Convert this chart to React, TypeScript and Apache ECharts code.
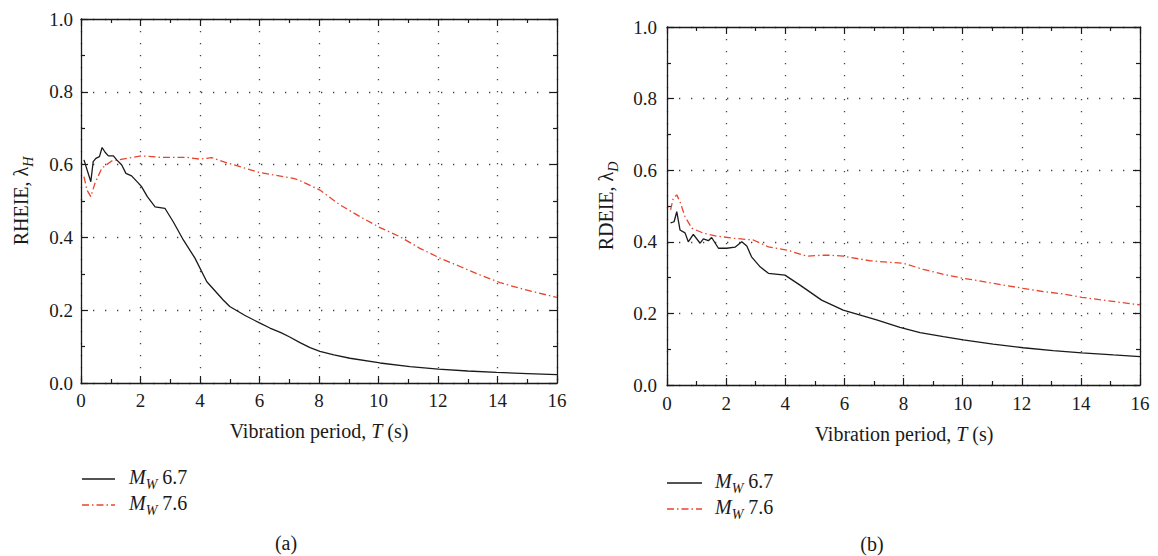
import React, { useEffect, useRef } from "react";
import * as echarts from "echarts";

// ---- Data ----
// (a) RHEIE, lambda_H
const periodH67 = [0.1, 0.33, 0.41, 0.5, 0.62, 0.71, 0.81, 0.92, 1.09, 1.2, 1.37, 1.51, 1.7, 1.93, 2.04, 2.23, 2.49, 2.82, 3.1, 3.44, 3.83, 4.23, 4.78, 5.0, 5.5, 6.0, 6.35, 6.7, 7.0, 7.36, 7.7, 8.03, 8.5, 9.04, 10.05, 11.06, 12.01, 13.0, 13.97, 15.0, 16];
const rheie67 = [0.613, 0.553, 0.608, 0.617, 0.622, 0.647, 0.634, 0.624, 0.624, 0.613, 0.599, 0.576, 0.569, 0.549, 0.539, 0.512, 0.484, 0.48, 0.443, 0.393, 0.343, 0.278, 0.228, 0.21, 0.186, 0.165, 0.151, 0.139, 0.127, 0.111, 0.097, 0.087, 0.077, 0.068, 0.055, 0.045, 0.038, 0.033, 0.029, 0.026, 0.023];
const periodH76 = [0.1, 0.2, 0.33, 0.47, 0.7, 1.03, 1.54, 2.04, 2.66, 3.55, 4.0, 4.39, 4.9, 6.02, 7.14, 7.36, 8.03, 8.71, 9.38, 10.05, 10.72, 11.39, 12.07, 12.74, 13.41, 14.08, 14.76, 15.65, 16];
const rheie76 = [0.567, 0.53, 0.512, 0.549, 0.59, 0.61, 0.617, 0.624, 0.62, 0.62, 0.615, 0.619, 0.605, 0.578, 0.562, 0.556, 0.53, 0.489, 0.457, 0.427, 0.402, 0.37, 0.343, 0.32, 0.297, 0.276, 0.26, 0.242, 0.235];

// (b) RDEIE, lambda_D
const periodD67 = [0.12, 0.24, 0.33, 0.44, 0.61, 0.72, 0.89, 1.12, 1.23, 1.4, 1.51, 1.74, 2.02, 2.3, 2.53, 2.7, 2.86, 3.15, 3.43, 3.99, 4.5, 5.23, 5.96, 7.09, 7.88, 8.56, 9.35, 10.02, 11.03, 12.05, 13.06, 14.03, 15.1, 16];
const rdeie67 = [0.453, 0.456, 0.484, 0.433, 0.425, 0.4, 0.421, 0.396, 0.408, 0.403, 0.412, 0.382, 0.382, 0.385, 0.4, 0.388, 0.358, 0.33, 0.312, 0.307, 0.279, 0.237, 0.209, 0.182, 0.161, 0.146, 0.135, 0.126, 0.114, 0.104, 0.096, 0.09, 0.084, 0.079];
const periodD76 = [0.12, 0.21, 0.33, 0.44, 0.61, 0.84, 1.23, 1.68, 2.24, 2.92, 3.43, 4.05, 4.73, 5.4, 5.96, 6.87, 7.99, 8.67, 9.35, 10.02, 10.7, 11.38, 12.05, 12.73, 13.41, 14.03, 14.76, 15.78, 16];
const rdeie76 = [0.489, 0.521, 0.531, 0.512, 0.47, 0.438, 0.424, 0.416, 0.41, 0.405, 0.386, 0.377, 0.36, 0.363, 0.36, 0.347, 0.34, 0.323, 0.309, 0.298, 0.289, 0.279, 0.27, 0.261, 0.254, 0.245, 0.237, 0.226, 0.224];

const xTicks = { min: 0, max: 16, interval: 2 };
const yTicks = { min: 0, max: 1, interval: 0.2 };
const legendNames = ["6.7", "7.6"];
const panelLabels = ["(a)", "(b)"];

const FONT = "Liberation Serif";
const BLACK = "#1a1a1a";
const RED = "#e8452c";
const DASHDOT = [7, 3, 1.5, 3];

const zip = (xs: number[], ys: number[]) => xs.map((x, i) => [x, ys[i]]);

export default function App() {
  const ref = useRef<HTMLDivElement>(null);

  useEffect(() => {
    if (!ref.current) return;
    const chart = echarts.init(ref.current, null, { renderer: "svg" });

    const grids = [
      { left: 81, top: 19, width: 476, height: 364 },
      { left: 667, top: 27, width: 473, height: 358 },
    ];

    const axisLine = { show: true, onZero: false, lineStyle: { color: BLACK, width: 1.3 } };
    const axisTick = { show: true, inside: true, length: 7, lineStyle: { color: BLACK, width: 1.2 } };
    const minorTick = { show: true, splitNumber: 2, length: 4, lineStyle: { color: BLACK, width: 1.2 } };
    const splitLine = { show: true, lineStyle: { color: "#444", width: 1.3, type: [1.3, 10.7] } };

    const xAxes: any[] = [];
    const yAxes: any[] = [];
    grids.forEach((_, g) => {
      xAxes.push({
        type: "value", gridIndex: g, position: "bottom", ...xTicks,
        axisLine, axisTick, minorTick, splitLine,
        axisLabel: { show: true, margin: g === 0 ? 8 : 9, color: BLACK, fontFamily: FONT, fontSize: 19 },
      });
      xAxes.push({
        type: "value", gridIndex: g, position: "top", ...xTicks,
        axisLine, axisTick, minorTick, splitLine: { show: false }, axisLabel: { show: false },
      });
      yAxes.push({
        type: "value", gridIndex: g, position: "left", ...yTicks,
        axisLine, axisTick, minorTick, splitLine,
        axisLabel: { show: true, margin: g === 0 ? 8 : 10, color: BLACK, fontFamily: FONT, fontSize: 19, formatter: (v: number) => v.toFixed(1) },
      });
      yAxes.push({
        type: "value", gridIndex: g, position: "right", ...yTicks,
        axisLine, axisTick, minorTick, splitLine: { show: false }, axisLabel: { show: false },
      });
    });

    const mkSeries = (name: string, xs: number[], ys: number[], g: number, red: boolean) => ({
      name, type: "line", xAxisIndex: g * 2, yAxisIndex: g * 2,
      data: zip(xs, ys), showSymbol: false, symbol: "none",
      lineStyle: red ? { color: RED, width: 1.3, type: DASHDOT } : { color: BLACK, width: 1.3 },
      z: red ? 3 : 4,
    });

    const richBase = {
      n: { fontFamily: FONT, fontSize: 20, fill: BLACK, lineHeight: 28, verticalAlign: "middle" },
      i: { fontFamily: FONT, fontSize: 20, fill: BLACK, fontStyle: "italic", lineHeight: 28, verticalAlign: "middle" },
      s: { fontFamily: FONT, fontSize: 14, fill: BLACK, fontStyle: "italic", lineHeight: 14, verticalAlign: "bottom" },
    };

    const text = (x: number, y: number, t: string, extra: any = {}) => ({
      type: "text", x, y, ...extra,
      style: { text: t, rich: richBase, align: "center", verticalAlign: "middle", fill: BLACK, font: `20px "${FONT}"` },
    });
    const legText = (x: number, y: number, t: string) => ({
      type: "text", x, y,
      style: { text: t, rich: richBase, align: "left", verticalAlign: "middle", fill: BLACK, font: `20px "${FONT}"` },
    });
    const legLine = (x1: number, x2: number, y: number, red: boolean) => ({
      type: "line", shape: { x1, y1: y, x2, y2: y },
      style: red ? { stroke: RED, lineWidth: 1.3, lineDash: DASHDOT } : { stroke: BLACK, lineWidth: 1.3 },
    });

    const graphic = [
      text(319, 431, "{n|Vibration period, }{i|T}{n| (s)}"),
      text(904, 434, "{n|Vibration period, }{i|T}{n| (s)}"),
      text(21, 201, "{n|RHEIE, λ}{s|H}", { rotation: Math.PI / 2 }),
      text(606, 206, "{n|RDEIE, λ}{s|D}", { rotation: Math.PI / 2 }),
      legLine(82, 115, 479, false),
      legLine(82, 115, 505, true),
      legText(129, 477, `{i|M}{s|W}{n| ${legendNames[0]}}`),
      legText(129, 503, `{i|M}{s|W}{n| ${legendNames[1]}}`),
      legLine(667, 702, 483, false),
      legLine(667, 702, 509, true),
      legText(715, 481, `{i|M}{s|W}{n| ${legendNames[0]}}`),
      legText(715, 507, `{i|M}{s|W}{n| ${legendNames[1]}}`),
      text(286, 543, `{n|${panelLabels[0]}}`),
      text(872, 544, `{n|${panelLabels[1]}}`),
    ];

    chart.setOption({
      animation: false,
      backgroundColor: "#ffffff",
      textStyle: { fontFamily: FONT },
      grid: grids.map((g) => ({ ...g, containLabel: false })),
      xAxis: xAxes,
      yAxis: yAxes,
      series: [
        mkSeries("Mw 7.6 (a)", periodH76, rheie76, 0, true),
        mkSeries("Mw 6.7 (a)", periodH67, rheie67, 0, false),
        mkSeries("Mw 7.6 (b)", periodD76, rdeie76, 1, true),
        mkSeries("Mw 6.7 (b)", periodD67, rdeie67, 1, false),
      ],
      graphic,
    });

    return () => chart.dispose();
  }, []);

  return (
    <div
      ref={ref}
      style={{ position: "fixed", left: 0, top: 0, width: 1158, height: 556, background: "#fff" }}
    />
  );
}
